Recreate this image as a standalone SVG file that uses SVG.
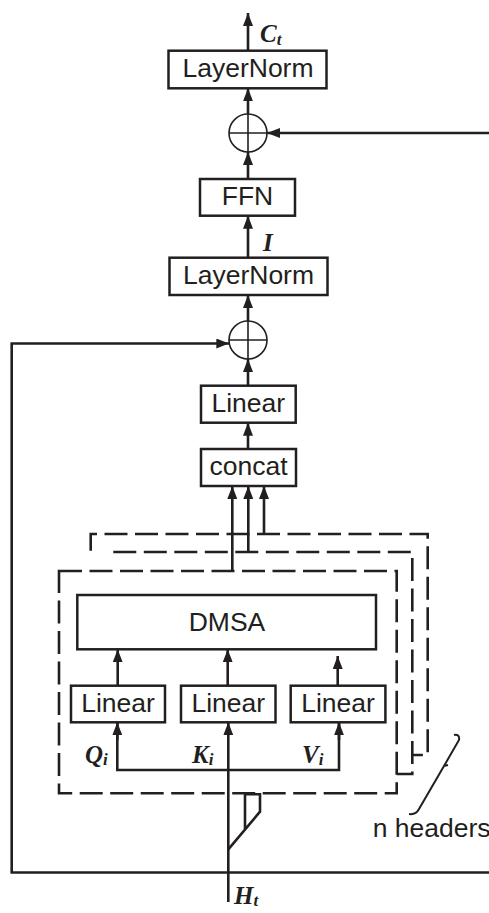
<svg xmlns="http://www.w3.org/2000/svg" width="489" height="913" viewBox="0 0 489 913">
<style>
.box{fill:#fff;stroke:#231f20;stroke-width:2.5}
.dash{fill:none;stroke:#231f20;stroke-width:2.6;stroke-dasharray:23 7.5}
.ln{fill:none;stroke:#231f20;stroke-width:2.6}
.add{fill:#fff;stroke:#231f20;stroke-width:1.6}
.t{font-family:"Liberation Sans",Arial,sans-serif;font-size:26.5px;fill:#231f20;text-anchor:middle}
.m{font-family:"Liberation Serif","Times New Roman",serif;font-style:italic;font-weight:bold;font-size:25px;fill:#231f20}
.s{font-size:17px}
</style>
<defs>
<marker id="ah" viewBox="0 0 13 10" refX="13" refY="5" markerWidth="13" markerHeight="10" markerUnits="userSpaceOnUse" orient="auto">
<path d="M0,0 L13,5 L0,10 z" fill="#231f20"/>
</marker>
</defs>

<g id="connectors">
<line class="ln" x1="248" y1="50.7" x2="248" y2="13" marker-end="url(#ah)"/>
<line class="ln" x1="248" y1="114" x2="248" y2="88.3" marker-end="url(#ah)"/>
<line class="ln" x1="489" y1="133" x2="267" y2="133" marker-end="url(#ah)"/>
<line class="ln" x1="248" y1="179" x2="248" y2="152" marker-end="url(#ah)"/>
<line class="ln" x1="248" y1="257.7" x2="248" y2="215.7" marker-end="url(#ah)"/>
<line class="ln" x1="248" y1="321" x2="248" y2="295" marker-end="url(#ah)"/>
<line class="ln" x1="248" y1="385.7" x2="248" y2="359" marker-end="url(#ah)"/>
<line class="ln" x1="248" y1="449" x2="248" y2="422.7" marker-end="url(#ah)"/>
<line class="ln" x1="232.3" y1="571" x2="232.3" y2="486" marker-end="url(#ah)"/>
<line class="ln" x1="248.3" y1="552" x2="248.3" y2="486" marker-end="url(#ah)"/>
<line class="ln" x1="264" y1="534" x2="264" y2="486" marker-end="url(#ah)"/>
<line class="ln" x1="117.7" y1="685.7" x2="117.7" y2="649.3" marker-end="url(#ah)"/>
<line class="ln" x1="227.7" y1="685.7" x2="227.7" y2="649.3" marker-end="url(#ah)"/>
<line class="ln" x1="337.7" y1="685.7" x2="337.7" y2="656" marker-end="url(#ah)"/>
<line class="ln" x1="228.3" y1="902" x2="228.3" y2="722.3" marker-end="url(#ah)"/>
<path class="ln" d="M117.3,722.3 V770 H339 V722.3"/>
<line class="ln" x1="117.3" y1="740" x2="117.3" y2="722.3" marker-end="url(#ah)"/>
<line class="ln" x1="339" y1="740" x2="339" y2="722.3" marker-end="url(#ah)"/>
<path class="ln" d="M228.3,849.3 L260,811.7 V794.3 H245 V829.5"/>
<path class="ln" d="M228.3,872.5 H11.7 V343.5 H229.3" marker-end="url(#ah)"/>
<path class="ln" d="M228.3,872.5 H489"/>
</g>

<g id="head3">
<path class="dash" d="M90.7,550.7 V534 H427.7 V755 H412.3"/>
</g>
<g id="head2">
<path class="dash" d="M113.3,552 H412.3 V774 H396.7"/>
</g>
<g id="head1">
<rect class="dash" x="59" y="571" width="337.7" height="222.3"/>
</g>

<g id="layernorm-top">
<rect class="box" x="168.5" y="50.7" width="158" height="37.6"/>
<text class="t" x="248" y="77">LayerNorm</text>
</g>
<g id="ct-label">
<text class="m" x="260" y="42">C<tspan class="s" dy="3">t</tspan></text>
</g>
<g id="add-top">
<circle class="add" cx="248" cy="133" r="19"/>
<path class="add" d="M229,133 H267 M248,114 V152"/>
</g>
<g id="ffn">
<rect class="box" x="200" y="179" width="95" height="36.7"/>
<text class="t" x="247.5" y="205">FFN</text>
</g>
<g id="i-label">
<text class="m" x="263" y="251">I</text>
</g>
<g id="layernorm-mid">
<rect class="box" x="169.5" y="257.7" width="158" height="37.3"/>
<text class="t" x="248.5" y="284.3">LayerNorm</text>
</g>
<g id="add-mid">
<circle class="add" cx="248" cy="340" r="19"/>
<path class="add" d="M229,340 H267 M248,321 V359"/>
</g>
<g id="linear-out">
<rect class="box" x="201" y="385.7" width="94.7" height="37"/>
<text class="t" x="248.3" y="412.3">Linear</text>
</g>
<g id="concat">
<rect class="box" x="201" y="449" width="95" height="37"/>
<text class="t" x="248.5" y="475.3">concat</text>
</g>
<g id="dmsa">
<rect class="box" x="77.3" y="595" width="298.7" height="54.3"/>
<text class="t" x="227" y="631">DMSA</text>
</g>
<g id="linear-q">
<rect class="box" x="71" y="685.7" width="94" height="36.6"/>
<text class="t" x="118" y="712">Linear</text>
</g>
<g id="linear-k">
<rect class="box" x="181" y="685.7" width="94.5" height="36.6"/>
<text class="t" x="228.3" y="712">Linear</text>
</g>
<g id="linear-v">
<rect class="box" x="290.7" y="685.7" width="94.7" height="36.6"/>
<text class="t" x="338" y="712">Linear</text>
</g>
<g id="qkv-labels">
<text class="m" x="85" y="763">Q<tspan class="s" dy="2">i</tspan></text>
<text class="m" x="192" y="763">K<tspan class="s" dy="2">i</tspan></text>
<text class="m" x="302" y="763">V<tspan class="s" dy="2">i</tspan></text>
</g>
<g id="n-headers">
<path class="ln" d="M454,735 Q460,734 459,740 L444,766 L448,765 M444,766 L419,809 Q416,815 409,814" style="stroke-width:2"/>
<text class="t" x="372.7" y="836.7" style="text-anchor:start">n headers</text>
</g>
<g id="ht-label">
<text class="m" x="234" y="904">H<tspan class="s" dy="2">t</tspan></text>
</g>
</svg>
